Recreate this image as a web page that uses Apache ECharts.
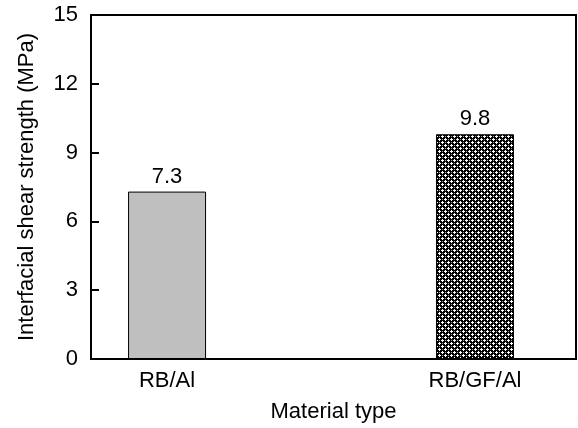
<!DOCTYPE html>
<html>
<head>
<meta charset="utf-8">
<script src="https://cdn.jsdelivr.net/npm/echarts@6/dist/echarts.min.js"></script>
<style>html,body{margin:0;padding:0;background:#fff}#c{width:578px;height:428px}</style>
</head>
<body>
<div id="c"></div>
<script>
var categories = ['RB/Al', 'RB/GF/Al'];
var positions = [1, 2];
var strengths = [7.3, 9.8];
var yTicks = [0, 3, 6, 9, 12, 15];

function makePattern() {
  var n = 6;
  var cv = document.createElement('canvas');
  cv.width = n; cv.height = n;
  var ctx = cv.getContext('2d');
  ctx.fillStyle = '#000000';
  ctx.fillRect(0, 0, n, n);
  ctx.fillStyle = '#ffffff';
  var centers = [[1, 1], [4, 4]];
  centers.forEach(function (c) {
    [[0,0],[1,0],[-1,0],[0,1],[0,-1]].forEach(function (d) {
      var x = (c[0] + d[0] + n) % n, y = (c[1] + d[1] + n) % n;
      ctx.fillRect(x, y, 1, 1);
    });
  });
  ctx.fillStyle = '#9a9a9a';
  ctx.fillRect(4, 1, 1, 1);
  ctx.fillRect(1, 4, 1, 1);
  return cv;
}

var FONT = 'Liberation Sans';
var FS = 22;
var data = positions.map(function (p, i) {
  return {
    value: [p, strengths[i]],
    itemStyle: i === 0
      ? { color: '#bfbfbf', borderColor: '#000', borderWidth: 1 }
      : { color: { image: makePattern(), repeat: 'repeat' }, borderColor: '#000', borderWidth: 1 }
  };
});

var chart = echarts.init(document.getElementById('c'), null, { renderer: 'canvas' });
chart.setOption({
  animation: false,
  backgroundColor: '#fff',
  grid: { left: 91, right: 2, top: 15, bottom: 69, show: true, borderColor: '#000', borderWidth: 2, backgroundColor: 'transparent' },
  xAxis: {
    type: 'value', min: 0.753, max: 2.328,
    name: 'Material type', nameLocation: 'middle', nameGap: 42,
    nameTextStyle: { fontFamily: FONT, fontSize: FS, color: '#000' },
    axisLine: { show: true, lineStyle: { color: '#000', width: 2 } },
    axisTick: { show: false },
    splitLine: { show: false },
    axisLabel: {
      customValues: positions,
      formatter: function (v) { var i = positions.indexOf(v); return i >= 0 ? categories[i] : ''; },
      fontFamily: FONT, fontSize: FS, color: '#000', margin: 11
    }
  },
  yAxis: {
    type: 'value', min: 0, max: 15, interval: 3,
    name: 'Interfacial shear strength (MPa)', nameLocation: 'middle', nameGap: 53,
    nameTextStyle: { fontFamily: FONT, fontSize: FS, color: '#000' },
    axisLine: { show: true, lineStyle: { color: '#000', width: 2 } },
    axisTick: { show: true, inside: true, length: 8, lineStyle: { color: '#000', width: 2 } },
    splitLine: { show: false },
    axisLabel: {
      formatter: function (v) { return yTicks.indexOf(v) >= 0 ? String(v) : ''; },
      fontFamily: FONT, fontSize: FS, color: '#000', margin: 13
    }
  },
  series: [{
    type: 'bar',
    barWidth: 78,
    data: data,
    label: { show: true, position: 'top', distance: 4, fontFamily: FONT, fontSize: FS, color: '#000',
      formatter: function (p) { return p.value[1].toFixed(1); } }
  }]
});
</script>
</body>
</html>
